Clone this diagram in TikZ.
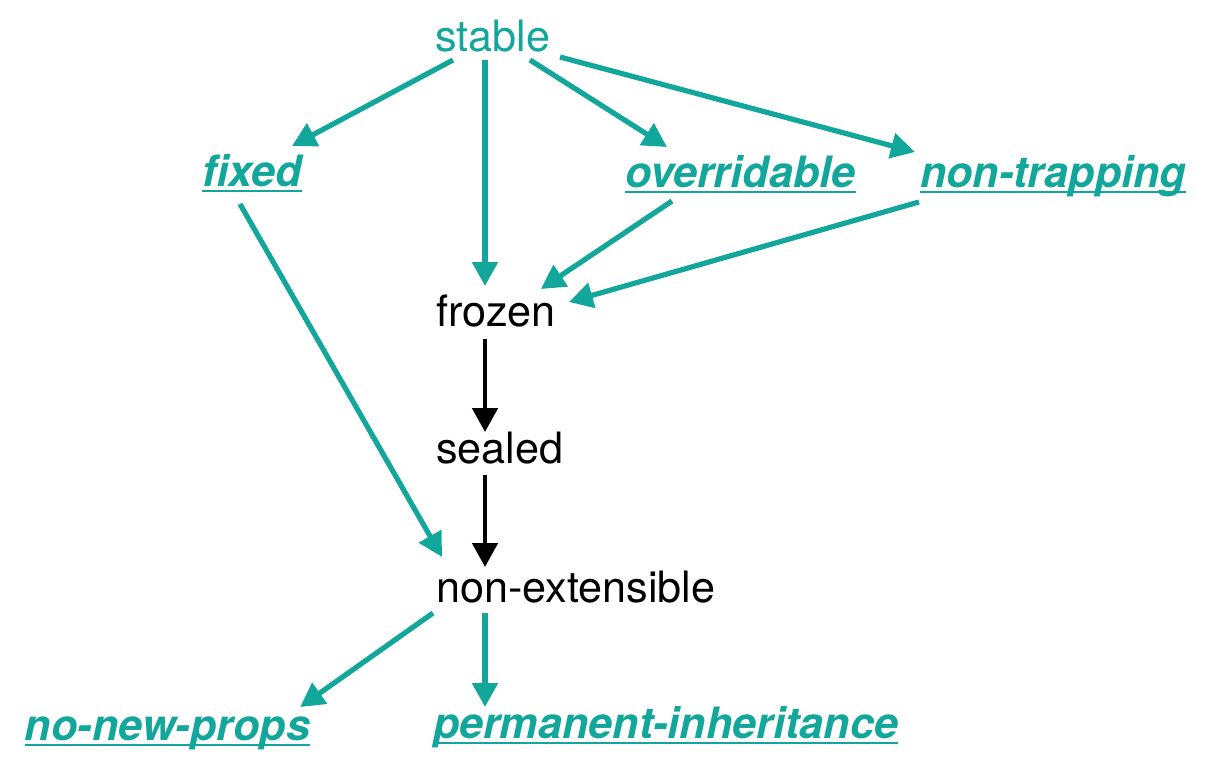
\documentclass[tikz,border=0pt]{standalone}
\usepackage{fontspec}
\setmainfont{TeX Gyre Heros}
\usetikzlibrary{arrows.meta,calc}
\definecolor{tealc}{RGB}{18,167,154}
\newcommand\ulink[1]{\setbox0=\hbox{#1}\rlap{\rule[-3pt]{\wd0}{1pt}}\box0}

\begin{document}
\begin{tikzpicture}[x=0.5pt,y=-0.5pt,
    every node/.style={inner xsep=0pt,inner ysep=4.5pt,outer sep=0pt,anchor=base west,
      text height=15.5pt,text depth=0pt,font=\fontsize{21.6}{26}\selectfont},
    prop/.style={text=tealc,font=\fontsize{21.6}{26}\selectfont\bfseries\itshape},
    tl/.style={draw=tealc,line width=2.6pt,-{Triangle[length=12pt,width=12.5pt]}},
    bl/.style={draw=black,line width=2.4pt,-{Triangle[length=12pt,width=12.5pt]}}]
    \useasboundingbox (0,0) rectangle (1212,778);
    \node[text=tealc] (stable) at (435,51) {stable};
    \node[prop] (fixed) at (202,186) {\ulink{fixed}};
    \node[prop] (over) at (625,187) {\ulink{overridable}};
    \node[prop] (nontrap) at (920,187) {\ulink{non-trapping}};
    \node (frozen) at (436,326) {frozen};
    \node (sealed) at (436,463) {sealed};
    \node (nonext) at (436,602) {non-extensible};
    \node[prop] (nonew) at (25,740) {\ulink{no-new-props}};
    \node[prop] (perm) at (433,738) {\ulink{permanent-inheritance}};
    \coordinate (col) at (485,0);
    \draw[tl] ($(stable.south west)+(18,0)$) -- ($(fixed.north east)+(-10,0)$);
    \draw[tl] (stable.south -| col) -- (frozen.north -| col);
    \draw[tl] ($(stable.south west)+(95,0)$) -- ($(over.north west)+(42,0)$);
    \draw[tl] ($(stable.south east)+(10,-3)$) -- ($(nontrap.north west)+(-5,5)$);
    \draw[tl] ($(fixed.south west)+(38,9)$) -- ($(nonext.north west)+(6,-5)$);
    \draw[tl] ($(over.south west)+(47,5)$) -- ($(frozen.north east)+(-15,3)$);
    \draw[tl] ($(nontrap.south west)+(-1,6)$) -- ($(frozen.north east)+(13,16)$);
    \draw[bl,shorten <=2pt,shorten >=-4.5pt] (frozen.south -| col) -- (sealed.north -| col);
    \draw[bl,shorten <=1.5pt,shorten >=-2.5pt] (sealed.south -| col) -- (nonext.north -| col);
    \draw[tl,shorten <=1pt,shorten >=-4.5pt] (nonext.south -| col) -- (perm.north -| col);
    \draw[tl] ($(nonext.south west)+(-3,2)$) -- ($(nonew.north east)+(-10,7)$);
\end{tikzpicture}
\end{document}
